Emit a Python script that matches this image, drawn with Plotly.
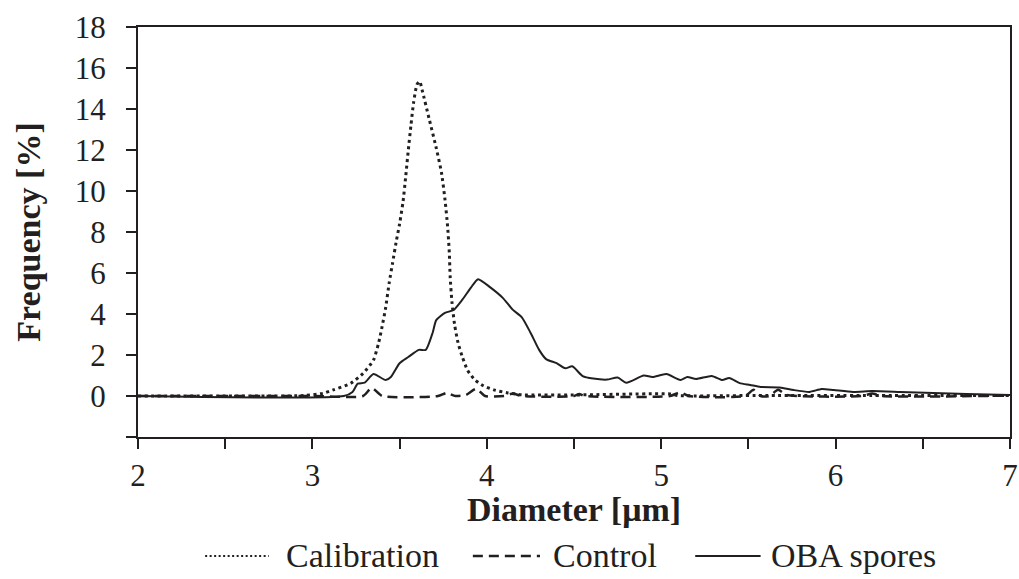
import plotly.graph_objects as go

# Calibration (dotted)
cal_x = [2.0, 2.5, 2.95, 3.06, 3.12, 3.22, 3.29, 3.35, 3.38, 3.40, 3.42, 3.44, 3.46, 3.48, 3.50,
         3.52, 3.535, 3.55, 3.565, 3.58, 3.60, 3.615, 3.63, 3.67, 3.71, 3.74, 3.76, 3.775, 3.785,
         3.79, 3.80, 3.815, 3.835, 3.86, 3.89, 3.93, 3.98, 4.04, 4.12, 4.20, 4.5, 5.05, 5.1, 5.6, 6.2, 7.0]
cal_y = [0, 0, 0.02, 0.13, 0.3, 0.62, 1.1, 1.75, 2.6, 3.4, 4.3, 5.5, 6.5, 7.5, 8.4,
         9.5, 10.7, 12.0, 13.2, 14.3, 15.2, 15.35, 14.9, 13.5, 12.1, 10.9, 9.6, 8.3, 7.0,
         5.8, 4.6, 3.5, 2.6, 1.9, 1.25, 0.8, 0.5, 0.3, 0.15, 0.06, 0.05, 0.1, 0.02, 0.03, 0.03, 0.02]

# Control (dashed)
ctl_x = [2.0, 3.0, 3.29, 3.34, 3.40, 3.72, 3.77, 3.82, 3.88, 3.94, 3.99, 4.1, 4.15, 4.2, 4.5, 4.53, 4.56,
         5.05, 5.11, 5.16, 5.48, 5.53, 5.57, 5.62, 5.67, 5.72, 6.15, 6.21, 6.27, 7.0]
ctl_y = [0, 0, 0, 0.4, 0, 0, 0.15, 0, 0.05, 0.35, 0, 0, 0.12, 0, 0, 0.1, 0,
         0, 0.18, 0, 0, 0.3, 0, 0, 0.3, 0.05, 0, 0.12, 0, 0.02]

# OBA spores (solid)
oba_x = [2.0, 3.18, 3.23, 3.26, 3.30, 3.35, 3.42, 3.45, 3.50, 3.55, 3.61, 3.65, 3.69, 3.71, 3.76,
         3.81, 3.86, 3.91, 3.95, 4.02, 4.09, 4.15, 4.20, 4.25, 4.30, 4.34, 4.40, 4.45, 4.49, 4.55,
         4.61, 4.69, 4.75, 4.80, 4.90, 4.95, 5.03, 5.11, 5.15, 5.20, 5.29, 5.35, 5.39, 5.45, 5.51,
         5.57, 5.68, 5.76, 5.85, 5.92, 5.99, 6.10, 6.21, 6.37, 6.56, 6.75, 7.0]
oba_y = [0, 0, 0.2, 0.6, 0.65, 1.07, 0.78, 0.93, 1.6, 1.9, 2.25, 2.25, 3.1, 3.7, 4.05,
         4.2, 4.7, 5.3, 5.7, 5.3, 4.8, 4.2, 3.85, 3.1, 2.25, 1.8, 1.6, 1.35, 1.45, 0.97,
         0.85, 0.8, 0.9, 0.65, 1.0, 0.93, 1.07, 0.78, 0.93, 0.83, 0.98, 0.78, 0.88, 0.63, 0.54,
         0.44, 0.42, 0.29, 0.2, 0.34, 0.29, 0.2, 0.24, 0.2, 0.15, 0.1, 0.05]

series_names = ["Calibration", "Control", "OBA spores"]
x_ticks = [2, 3, 4, 5, 6, 7]
y_ticks = [-2, 0, 2, 4, 6, 8, 10, 12, 14, 16, 18]
y_ticktext = ["", "0", "2", "4", "6", "8", "10", "12", "14", "16", "18"]
x_title = "Diameter [μm]"
y_title = "Frequency [%]"

FONT = "Liberation Serif, Times New Roman, serif"
INK = "#231f20"
styles = [dict(width=3, dash="3px,3.5px"), dict(width=2.5, dash="10px,6px"), dict(width=2, dash="solid")]

fig = go.Figure()
for xs, ys, nm, st in zip([cal_x, ctl_x, oba_x], [cal_y, ctl_y, oba_y], series_names, styles):
    fig.add_trace(go.Scatter(x=xs, y=ys, mode="lines", name=nm, showlegend=False,
                             line=dict(color=INK, width=st["width"], dash=st["dash"],
                                       shape="spline", smoothing=0.6)))

# custom legend (long line samples like the original)
leg_y = -0.29
leg_items = [(0.077, 0.150, 0.167), (0.384, 0.461, 0.474), (0.639, 0.714, 0.724)]
leg_styles = [dict(width=2, dash="2px,2.5px"), dict(width=2.5, dash="10px,6px"), dict(width=2, dash="solid")]
for (x0, x1, xt), nm, st in zip(leg_items, series_names, leg_styles):
    fig.add_shape(type="line", xref="paper", yref="paper", x0=x0, x1=x1, y0=leg_y, y1=leg_y,
                  line=dict(color=INK, width=st["width"], dash=st["dash"]))
    fig.add_annotation(xref="paper", yref="paper", x=xt, y=leg_y, text=nm, showarrow=False,
                       xanchor="left", yanchor="middle", font=dict(family=FONT, size=34, color=INK))

# x-axis title placed just under the tick labels
fig.add_annotation(xref="paper", yref="paper", x=0.5, y=-0.178, text="<b>" + x_title + "</b>",
                   showarrow=False, xanchor="center", yanchor="middle",
                   font=dict(family=FONT, size=34, color=INK))

fig.update_layout(
    width=1019, height=579,
    margin=dict(l=138, r=9, t=27, b=142),
    paper_bgcolor="white", plot_bgcolor="white",
    font=dict(family=FONT, size=31, color=INK),
    showlegend=False,
    xaxis=dict(range=[2, 7], tickvals=x_ticks, showgrid=False, zeroline=False, automargin=False,
               showline=True, linecolor=INK, linewidth=2, mirror=True,
               ticks="outside", ticklen=10, tickwidth=2, tickcolor=INK,
               minor=dict(dtick=0.5, ticks="outside", ticklen=10, tickwidth=2, tickcolor=INK, showgrid=False),
               tickfont=dict(family=FONT, size=31, color=INK)),
    yaxis=dict(range=[-2, 18], tickvals=y_ticks, ticktext=y_ticktext, showgrid=False, zeroline=False,
               automargin=False, ticklabelstandoff=14,
               showline=True, linecolor=INK, linewidth=2, mirror=True,
               ticks="outside", ticklen=10, tickwidth=2, tickcolor=INK,
               tickfont=dict(family=FONT, size=31, color=INK),
               title=dict(text="<b>" + y_title + "</b>", font=dict(family=FONT, size=34, color=INK), standoff=24)),
)

fig.write_html("out.html")
